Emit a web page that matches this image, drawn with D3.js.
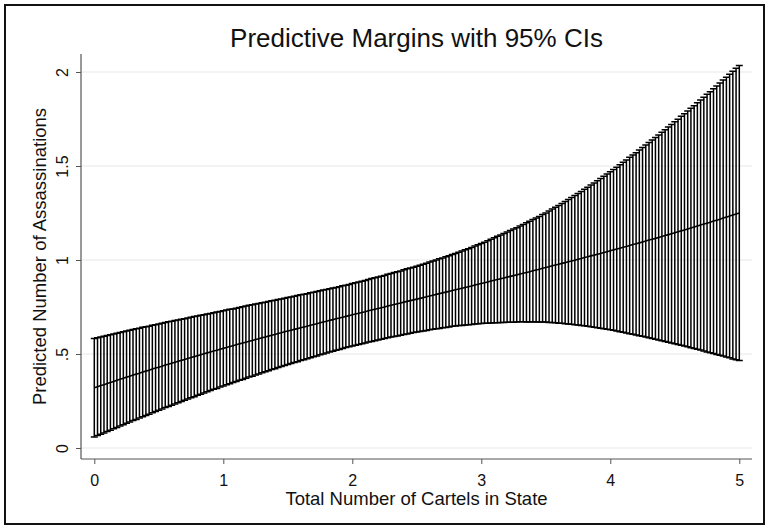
<!DOCTYPE html>
<html>
<head>
<meta charset="utf-8">
<script src="https://cdn.jsdelivr.net/npm/d3@7"></script>
<style>
  body { margin: 0; background: #fff; }
  svg { display: block; }
  text { font-family: "Liberation Sans", Arial, Helvetica, sans-serif; fill: #111; }
</style>
</head>
<body>
<svg></svg>
<script>
// at() values of the margins command (number of cartels)
const atValues = [
  0.000,0.025,0.050,0.075,0.100,0.125,0.150,0.175,
  0.200,0.225,0.250,0.275,0.300,0.325,0.350,0.375,
  0.400,0.425,0.450,0.475,0.500,0.525,0.550,0.575,
  0.600,0.625,0.650,0.675,0.700,0.725,0.750,0.775,
  0.800,0.825,0.850,0.875,0.900,0.925,0.950,0.975,
  1.000,1.025,1.050,1.075,1.100,1.125,1.150,1.175,
  1.200,1.225,1.250,1.275,1.300,1.325,1.350,1.375,
  1.400,1.425,1.450,1.475,1.500,1.525,1.550,1.575,
  1.600,1.625,1.650,1.675,1.700,1.725,1.750,1.775,
  1.800,1.825,1.850,1.875,1.900,1.925,1.950,1.975,
  2.000,2.025,2.050,2.075,2.100,2.125,2.150,2.175,
  2.200,2.225,2.250,2.275,2.300,2.325,2.350,2.375,
  2.400,2.425,2.450,2.475,2.500,2.525,2.550,2.575,
  2.600,2.625,2.650,2.675,2.700,2.725,2.750,2.775,
  2.800,2.825,2.850,2.875,2.900,2.925,2.950,2.975,
  3.000,3.025,3.050,3.075,3.100,3.125,3.150,3.175,
  3.200,3.225,3.250,3.275,3.300,3.325,3.350,3.375,
  3.400,3.425,3.450,3.475,3.500,3.525,3.550,3.575,
  3.600,3.625,3.650,3.675,3.700,3.725,3.750,3.775,
  3.800,3.825,3.850,3.875,3.900,3.925,3.950,3.975,
  4.000,4.025,4.050,4.075,4.100,4.125,4.150,4.175,
  4.200,4.225,4.250,4.275,4.300,4.325,4.350,4.375,
  4.400,4.425,4.450,4.475,4.500,4.525,4.550,4.575,
  4.600,4.625,4.650,4.675,4.700,4.725,4.750,4.775,
  4.800,4.825,4.850,4.875,4.900,4.925,4.950,4.975,
  5.000
];

// predicted number of assassinations (margin)
const margins = [
  .320,.326,.332,.337,.343,.349,.354,.360,
  .366,.371,.377,.382,.388,.393,.398,.404,
  .409,.414,.420,.425,.430,.435,.441,.446,
  .451,.456,.461,.466,.471,.476,.481,.486,
  .491,.496,.501,.506,.511,.516,.520,.525,
  .530,.535,.540,.544,.549,.554,.558,.563,
  .568,.572,.577,.581,.586,.590,.595,.600,
  .604,.609,.613,.618,.622,.626,.631,.635,
  .640,.644,.648,.653,.657,.661,.666,.670,
  .674,.679,.683,.687,.691,.696,.700,.704,
  .709,.713,.717,.721,.725,.730,.734,.738,
  .742,.746,.750,.755,.759,.763,.767,.771,
  .776,.780,.784,.788,.792,.796,.800,.804,
  .809,.813,.817,.821,.825,.829,.833,.838,
  .842,.846,.850,.854,.858,.862,.867,.871,
  .875,.879,.883,.888,.892,.896,.900,.904,
  .909,.913,.917,.921,.926,.930,.934,.938,
  .943,.947,.951,.956,.960,.964,.969,.973,
  .977,.982,.986,.991,.995,.999,1.004,1.008,
  1.013,1.017,1.022,1.026,1.031,1.035,1.040,1.044,
  1.049,1.054,1.058,1.063,1.068,1.072,1.077,1.082,
  1.086,1.091,1.096,1.101,1.106,1.110,1.115,1.120,
  1.125,1.130,1.135,1.140,1.145,1.150,1.155,1.160,
  1.165,1.170,1.175,1.181,1.186,1.191,1.196,1.201,
  1.207,1.212,1.217,1.223,1.228,1.234,1.239,1.245,
  1.250
];

// half width of the 95% CI
const halfWidths = [
  .262,.260,.259,.257,.255,.254,.252,.251,
  .249,.247,.246,.244,.242,.241,.239,.238,
  .236,.234,.233,.231,.229,.228,.226,.225,
  .223,.222,.220,.219,.217,.216,.214,.213,
  .211,.210,.208,.207,.205,.204,.203,.201,
  .200,.199,.198,.196,.195,.194,.193,.192,
  .191,.190,.189,.187,.186,.185,.184,.183,
  .182,.181,.180,.179,.178,.177,.176,.176,
  .175,.174,.173,.173,.172,.171,.170,.170,
  .169,.168,.168,.167,.167,.167,.166,.166,
  .166,.166,.166,.166,.166,.166,.167,.167,
  .167,.168,.168,.169,.169,.170,.171,.171,
  .172,.173,.174,.174,.175,.176,.178,.179,
  .180,.182,.183,.185,.186,.188,.190,.191,
  .193,.195,.198,.200,.202,.205,.208,.210,
  .213,.216,.220,.223,.226,.230,.233,.237,
  .240,.244,.248,.251,.255,.259,.264,.268,
  .272,.277,.281,.286,.290,.296,.302,.307,
  .313,.319,.325,.331,.337,.344,.350,.357,
  .363,.370,.377,.384,.391,.398,.406,.413,
  .420,.428,.436,.444,.452,.460,.469,.477,
  .485,.494,.502,.511,.519,.528,.537,.545,
  .554,.563,.572,.581,.590,.599,.609,.618,
  .627,.637,.646,.656,.665,.675,.685,.694,
  .704,.714,.724,.734,.744,.754,.765,.775,
  .785
];

const xTicks = [0, 1, 2, 3, 4, 5];
const yTicks = [0, 0.5, 1, 1.5, 2];
const yTickLabels = ['0', '.5', '1', '1.5', '2'];

const width = 769, height = 529;
const plot = {left: 81, right: 752, top: 54, bottom: 459};

const svg = d3.select('svg')
    .attr('width', width)
    .attr('height', height);

// outer frame
svg.append('rect')
    .attr('x', 5).attr('y', 5)
    .attr('width', width - 10).attr('height', height - 10)
    .attr('fill', '#fff')
    .attr('stroke', '#111')
    .attr('stroke-width', 2);

const x = d3.scaleLinear().domain([0, 5]).range([94.3, 739.3]);
const y = d3.scaleLinear().domain([0, 2]).range([448, 72]);

const data = atValues.map((a, i) => ({
  at: a,
  m: margins[i],
  lo: margins[i] - halfWidths[i],
  hi: margins[i] + halfWidths[i]
}));

// grid
svg.append('g').selectAll('line').data(yTicks)
  .enter().append('line')
    .attr('x1', plot.left).attr('x2', plot.right)
    .attr('y1', d => y(d)).attr('y2', d => y(d))
    .attr('stroke', '#e6eaea')
    .attr('stroke-width', 1.2);

// axes
const yAxis = svg.append('g')
    .attr('transform', `translate(${plot.left},0)`)
    .call(d3.axisLeft(y).tickValues(yTicks).tickSize(5)
      .tickFormat((d, i) => yTickLabels[i]));
yAxis.select('.domain').remove();
yAxis.selectAll('line').attr('stroke', '#555');
yAxis.selectAll('text')
    .attr('x', null).attr('dy', null)
    .attr('text-anchor', 'middle')
    .attr('transform', 'translate(-13,0) rotate(-90)')
    .style('font-size', '16px')
    .style('font-family', '"Liberation Sans", Arial, sans-serif')
    .attr('fill', '#111');

const xAxis = svg.append('g')
    .attr('transform', `translate(0,${plot.bottom})`)
    .call(d3.axisBottom(x).tickValues(xTicks).tickSize(5).tickPadding(8)
      .tickFormat(d3.format('d')));
xAxis.select('.domain').remove();
xAxis.selectAll('line').attr('stroke', '#555');
xAxis.selectAll('text')
    .attr('dy', '0.85em')
    .style('font-size', '16px')
    .style('font-family', '"Liberation Sans", Arial, sans-serif')
    .attr('fill', '#111');

svg.append('line')
    .attr('x1', plot.left).attr('x2', plot.left)
    .attr('y1', plot.top).attr('y2', plot.bottom)
    .attr('stroke', '#555').attr('stroke-width', 1.2);
svg.append('line')
    .attr('x1', plot.left).attr('x2', plot.right)
    .attr('y1', plot.bottom).attr('y2', plot.bottom)
    .attr('stroke', '#555').attr('stroke-width', 1.2);

// CI caps
const capW = 3.5;
const ci = svg.append('g')
    .attr('stroke', '#000')
    .attr('stroke-width', 1.5)
    .attr('fill', 'none');
ci.selectAll('path').data(data)
  .enter().append('path')
    .attr('d', d => {
      const cx = x(d.at), y0 = y(d.lo), y1 = y(d.hi);
      return `M${cx},${y0}V${y1}M${cx - capW},${y1}H${cx + capW}M${cx - capW},${y0}H${cx + capW}`;
    });

// margin line
svg.append('path')
    .datum(data)
    .attr('fill', 'none')
    .attr('stroke', '#000')
    .attr('stroke-width', 1.6)
    .attr('d', d3.line().x(d => x(d.at)).y(d => y(d.m)));

// titles
svg.append('text')
    .attr('x', (plot.left + plot.right) / 2).attr('y', 47)
    .attr('text-anchor', 'middle')
    .style('font-size', '26px')
    .text('Predictive Margins with 95% CIs');

svg.append('text')
    .attr('x', (plot.left + plot.right) / 2).attr('y', 505)
    .attr('text-anchor', 'middle')
    .style('font-size', '18.5px')
    .text('Total Number of Cartels in State');

svg.append('text')
    .attr('transform', `translate(46,${(plot.top + plot.bottom) / 2}) rotate(-90)`)
    .attr('text-anchor', 'middle')
    .style('font-size', '18.5px')
    .text('Predicted Number of Assassinations');
</script>
</body>
</html>
